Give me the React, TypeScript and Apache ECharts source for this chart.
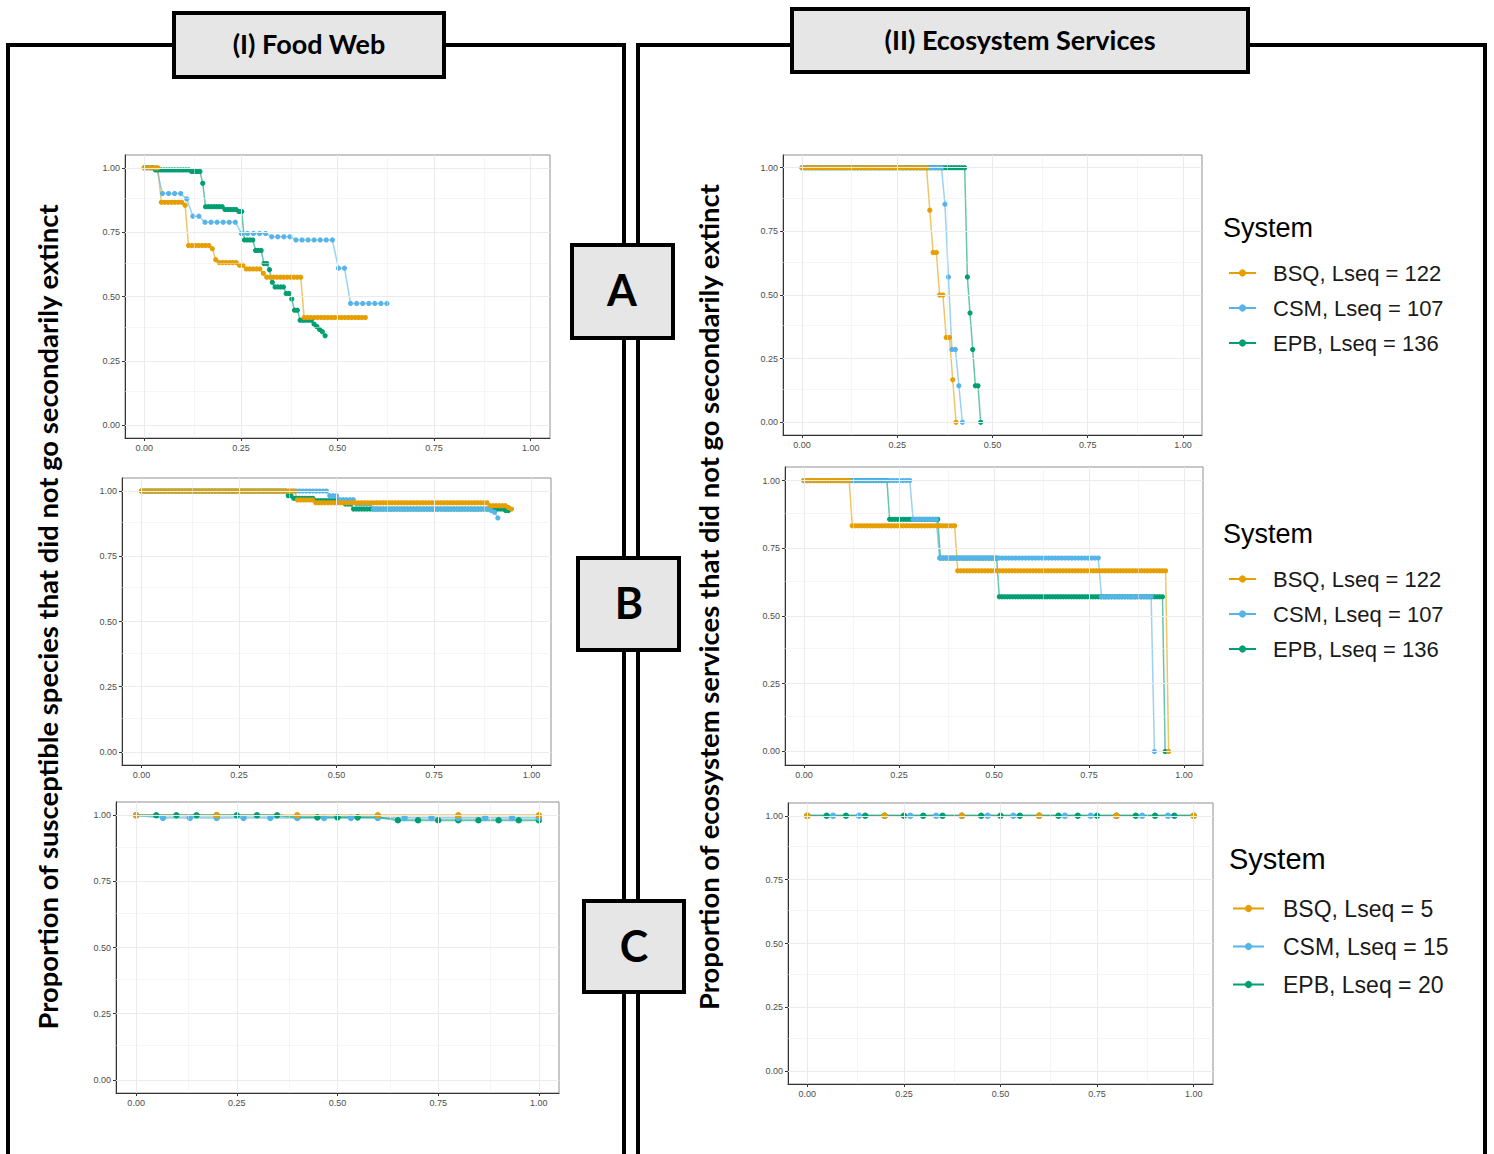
import React, { useEffect, useRef } from "react";
import * as echarts from "echarts";

// ---------- data ----------
const SYSTEMS = ["BSQ", "CSM", "EPB"];
const COLORS = ["#E69F00", "#56B4E9", "#009E73"];
const LSEQ_AB = [122, 107, 136];
const LSEQ_C = [5, 15, 20];
const TICKS = [0, 0.25, 0.5, 0.75, 1];
const MINOR = [0.125, 0.375, 0.625, 0.875];

// runs: [proportion that did not go extinct, number of consecutive removal steps]
// Food web, row A
const fwA_BSQ = [[1, 5], [0.866, 7], [0.855, 1], [0.698, 7], [0.686, 1], [0.643, 1], [0.632, 6], [0.621, 2], [0.607, 5], [0.59, 1], [0.575, 11], [0.418, 19]];
const fwA_CSM = [[1, 3], [0.9, 4], [0.879, 1], [0.812, 2], [0.789, 6], [0.745, 5], [0.732, 4], [0.72, 7], [0.61, 2], [0.473, 7]];
const fwA_EPB = [[1, 4], [0.992, 13], [0.986, 4], [0.94, 1], [0.849, 7], [0.838, 5], [0.83, 2], [0.72, 4], [0.679, 3], [0.628, 2], [0.604, 1], [0.555, 1], [0.537, 4], [0.512, 2], [0.49, 1], [0.447, 2], [0.408, 5], [0.393, 1], [0.383, 1], [0.372, 1], [0.363, 1], [0.347, 1]];
const fwA_STEP = [0.0088, 0.0157, 0.0072];
// Food web, row B
const fwB_BSQ = [[1, 51], [0.966, 6], [0.955, 57], [0.944, 6], [0.937, 1], [0.931, 1]];
const fwB_CSM = [[1, 56], [0.982, 3], [0.967, 5], [0.95, 5], [0.931, 35], [0.925, 1], [0.919, 1], [0.897, 1]];
const fwB_EPB = [[1, 54], [0.982, 2], [0.972, 8], [0.963, 11], [0.95, 3], [0.931, 56], [0.925, 2]];
const fwB_STEP = [0.00784, 0.00862, 0.00697];
// Food web, row C
const fwC_BSQ = [[1, 6]];
const fwC_CSM = [[1, 1], [0.99, 15]];
const fwC_EPB = [[1, 8], [0.992, 5], [0.981, 8]];
const C_STEP = [0.2, 0.066667, 0.05];
// Ecosystem services, row A
const esA_BSQ = [[1, 39], [0.833, 1], [0.667, 2], [0.5, 2], [0.333, 2], [0.167, 1], [0, 1]];
const esA_CSM = [[1, 41], [0.857, 1], [0.571, 1], [0.286, 2], [0.143, 1], [0, 1]];
const esA_EPB = [[1, 62], [0.571, 1], [0.429, 1], [0.286, 1], [0.143, 2], [0, 1]];
const esA_STEP = [0.0086, 0.00915, 0.007];
// Ecosystem services, row B
const esB_BSQ = [[1, 16], [0.833, 35], [0.667, 70], [0, 1]];
const esB_CSM = [[1, 33], [0.857, 8], [0.714, 49], [0.571, 16], [0, 1]];
const esB_EPB = [[1, 32], [0.857, 19], [0.714, 22], [0.571, 62], [0, 1]];
const esB_STEP = [0.00793, 0.0087, 0.00704];
// Ecosystem services, row C
const esC_BSQ = [[1, 6]];
const esC_CSM = [[1, 16]];
const esC_EPB = [[1, 21]];

function expand(runs: number[][], step: number) {
  const out: number[][] = [];
  let i = 0;
  for (const [v, n] of runs) {
    for (let k = 0; k < n; k++) {
      out.push([+(i * step).toFixed(5), v]);
      i++;
    }
  }
  return out;
}

const namesAB = SYSTEMS.map((s, i) => `${s}, Lseq = ${LSEQ_AB[i]}`);
const namesC = SYSTEMS.map((s, i) => `${s}, Lseq = ${LSEQ_C[i]}`);

const PANELS = [
  { grid: { left: 125, top: 155, width: 425, height: 283 }, runs: [fwA_BSQ, fwA_CSM, fwA_EPB], steps: fwA_STEP, names: namesAB, big: false },
  { grid: { left: 122, top: 478, width: 429, height: 287 }, runs: [fwB_BSQ, fwB_CSM, fwB_EPB], steps: fwB_STEP, names: namesAB, big: false },
  { grid: { left: 116, top: 802, width: 443, height: 291 }, runs: [fwC_BSQ, fwC_CSM, fwC_EPB], steps: C_STEP, names: namesC, big: true },
  { grid: { left: 783, top: 155, width: 419, height: 280 }, runs: [esA_BSQ, esA_CSM, esA_EPB], steps: esA_STEP, names: namesAB, big: false },
  { grid: { left: 785, top: 467, width: 418, height: 298 }, runs: [esB_BSQ, esB_CSM, esB_EPB], steps: esB_STEP, names: namesAB, big: false },
  { grid: { left: 788, top: 803, width: 425, height: 281 }, runs: [esC_BSQ, esC_CSM, esC_EPB], steps: C_STEP, names: namesC, big: true },
];

const AXIS_FONT = "Liberation Sans";
const TITLE_FONT = "Lato";

function buildOption() {
  const grid: any[] = [];
  const xAxis: any[] = [];
  const yAxis: any[] = [];
  const series: any[] = [];

  PANELS.forEach((p, pi) => {
    grid.push({ ...p.grid, show: true, borderColor: "#8f8f8f", borderWidth: 1, backgroundColor: "#fff", containLabel: false });
    const common = {
      gridIndex: pi,
      type: "value",
      min: -0.05,
      max: 1.05,
      axisLine: { show: true, onZero: false, lineStyle: { color: "#333", width: 1 } },
      axisTick: { show: true, customValues: TICKS, length: 3, lineStyle: { color: "#333", width: 1 } },
      axisLabel: {
        show: true,
        customValues: TICKS,
        formatter: (v: number) => v.toFixed(2),
        fontSize: 9,
        color: "#4d4d4d",
        fontFamily: AXIS_FONT,
        margin: 5,
      },
      splitLine: { show: false },
    };
    xAxis.push({ ...common, position: "bottom" });
    yAxis.push({ ...common, position: "left" });

    // background grid lines
    const gl = [
      ...TICKS.map((v) => ({ xAxis: v })),
      ...TICKS.map((v) => ({ yAxis: v })),
      ...MINOR.map((v) => ({ xAxis: v, lineStyle: { width: 0.5 } })),
      ...MINOR.map((v) => ({ yAxis: v, lineStyle: { width: 0.5 } })),
    ];
    series.push({
      type: "line",
      name: "grid" + pi,
      xAxisIndex: pi,
      yAxisIndex: pi,
      data: [],
      silent: true,
      z: 1,
      markLine: {
        silent: true,
        symbol: ["none", "none"],
        label: { show: false },
        emphasis: { disabled: true },
        lineStyle: { color: "#ebebeb", type: "solid", width: 1 },
        data: gl,
      },
    });

    const datas = p.runs.map((r, si) => expand(r, p.steps[si]));

    // lines: BSQ, CSM, EPB (EPB drawn last)
    datas.forEach((d, si) => {
      series.push({
        type: "line",
        name: p.names[si],
        xAxisIndex: pi,
        yAxisIndex: pi,
        data: d,
        symbol: "circle",
        symbolSize: p.big ? 5 : 4,
        showSymbol: false,
        z: 2,
        color: COLORS[si],
        itemStyle: { color: COLORS[si] },
        lineStyle: { color: COLORS[si], width: p.big ? 2 : 1.5, opacity: 0.6 },
        emphasis: { disabled: true },
        silent: true,
      });
    });
    // points: EPB, CSM, BSQ (BSQ drawn last, on top)
    [2, 1, 0].forEach((si) => {
      series.push({
        type: "scatter",
        name: SYSTEMS[si] + " points " + pi,
        xAxisIndex: pi,
        yAxisIndex: pi,
        data: datas[si],
        symbol: "circle",
        symbolSize: p.big ? 5 : 4,
        z: 3,
        itemStyle: { color: COLORS[si], opacity: 1, borderColor: COLORS[si], borderWidth: p.big ? 1.5 : 1.2 },
        emphasis: { disabled: true },
        silent: true,
      });
    });
  });

  const legendBase = {
    show: true,
    orient: "vertical",
    selectedMode: false,
    padding: 0,
    itemHeight: 9,
    lineStyle: { opacity: 1, width: 2 },
  };
  const legend = [
    { ...legendBase, left: 1228, top: 262, itemWidth: 27, itemGap: 13, data: namesAB, textStyle: { fontSize: 22, lineHeight: 22, fontFamily: AXIS_FONT, color: "#1a1a1a", padding: [0, 0, 0, 12] } },
    { ...legendBase, left: 1228, top: 568, itemWidth: 27, itemGap: 13, data: namesAB, textStyle: { fontSize: 22, lineHeight: 22, fontFamily: AXIS_FONT, color: "#1a1a1a", padding: [0, 0, 0, 12] } },
    { ...legendBase, left: 1232, top: 897, itemWidth: 31, itemGap: 15, data: namesC, textStyle: { fontSize: 23, lineHeight: 23, fontFamily: AXIS_FONT, color: "#1a1a1a", padding: [0, 0, 0, 14] } },
  ];

  const boxStyle = { fill: "#e6e6e6", stroke: "#000", lineWidth: 4 };
  const txt = (text: string, x: number, y: number, size: number, opts: any = {}) => ({
    type: "text",
    x,
    y,
    z: 110,
    ...opts,
    style: {
      text,
      fontSize: size,
      fontWeight: opts.weight || "bold",
      fontFamily: opts.family || TITLE_FONT,
      fill: "#000",
      textAlign: opts.align || "center",
      textVerticalAlign: "middle",
    },
  });

  const graphic = [
    { type: "rect", z: 90, shape: { x: 8, y: 45, width: 616, height: 1200 }, style: { fill: "none", stroke: "#000", lineWidth: 4 } },
    { type: "rect", z: 90, shape: { x: 638, y: 45, width: 847, height: 1200 }, style: { fill: "none", stroke: "#000", lineWidth: 4 } },
    { type: "rect", z: 100, shape: { x: 174, y: 13, width: 270, height: 64 }, style: boxStyle },
    { type: "rect", z: 100, shape: { x: 792, y: 9, width: 456, height: 63 }, style: boxStyle },
    { type: "rect", z: 100, shape: { x: 572, y: 245, width: 101, height: 93 }, style: boxStyle },
    { type: "rect", z: 100, shape: { x: 578, y: 558, width: 101, height: 92 }, style: boxStyle },
    { type: "rect", z: 100, shape: { x: 584, y: 901, width: 100, height: 91 }, style: boxStyle },
    txt("(I) Food Web", 309, 43, 27),
    txt("(II) Ecosystem Services", 1020, 39, 27),
    txt("A", 622, 289, 43),
    txt("B", 629, 602, 43),
    txt("C", 634, 945, 43),
    txt("Proportion of susceptible species that did not go secondarily extinct", 47, 617, 27.4, { rotation: Math.PI / 2 }),
    txt("Proportion of ecosystem services that did not go secondarily extinct", 708, 597, 27.4, { rotation: Math.PI / 2 }),
    txt("System", 1223, 228, 27, { align: "left", weight: "normal", family: AXIS_FONT }),
    txt("System", 1223, 534, 27, { align: "left", weight: "normal", family: AXIS_FONT }),
    txt("System", 1229, 859, 29, { align: "left", weight: "normal", family: AXIS_FONT }),
  ];

  return {
    animation: false,
    backgroundColor: "#fff",
    grid,
    xAxis,
    yAxis,
    series,
    legend,
    graphic,
  };
}

export default function App() {
  const ref = useRef<HTMLDivElement>(null);
  useEffect(() => {
    if (!ref.current) return;
    const chart = echarts.init(ref.current, undefined, { renderer: "svg" });
    chart.setOption(buildOption() as any);
    return () => chart.dispose();
  }, []);
  return <div ref={ref} style={{ position: "absolute", left: 0, top: 0, width: 1494, height: 1154 }} />;
}
